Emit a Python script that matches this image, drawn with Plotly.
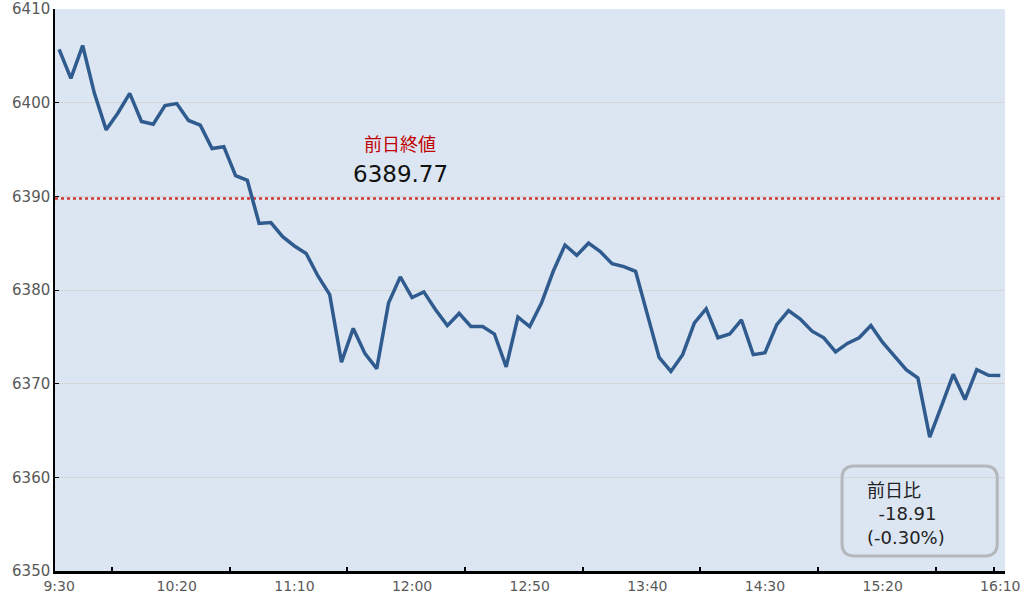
import plotly.graph_objects as go

# 5-minute prices, 9:30 -> 16:10
prices = [
    6405.7, 6402.6, 6406.1, 6401.0, 6397.1, 6398.9, 6401.0, 6398.0, 6397.7, 6399.7,
    6399.9, 6398.1, 6397.6, 6395.1, 6395.3, 6392.2, 6391.7, 6387.1, 6387.2, 6385.7,
    6384.7, 6383.9, 6381.5, 6379.5, 6372.3, 6375.9, 6373.2, 6371.6, 6378.6, 6381.4,
    6379.2, 6379.8, 6377.9, 6376.2, 6377.5, 6376.1, 6376.1, 6375.3, 6371.8, 6377.1,
    6376.1, 6378.6, 6382.0, 6384.8, 6383.7, 6385.0, 6384.1, 6382.8, 6382.5, 6382.0,
    6377.4, 6372.8, 6371.3, 6373.1, 6376.5, 6378.0, 6374.9, 6375.3, 6376.8, 6373.1,
    6373.3, 6376.3, 6377.8, 6376.9, 6375.6, 6374.9, 6373.4, 6374.3, 6374.9, 6376.2,
    6374.4, 6373.0, 6371.5, 6370.6, 6364.3, 6367.6, 6371.0, 6368.3, 6371.5, 6370.9,
    6370.86,
]
prev_close = 6389.77
tick_labels = ["9:30", "10:20", "11:10", "12:00", "12:50", "13:40", "14:30", "15:20", "16:10"]
y_ticks = [6350, 6360, 6370, 6380, 6390, 6400, 6410]

# time labels for each point (every 5 minutes)
times = []
for k in range(len(prices)):
    m = 9 * 60 + 30 + 5 * k
    times.append("%d:%02d" % (m // 60, m % 60))
xs = list(range(len(prices)))
tick_pos = [times.index(t) for t in tick_labels]
minor_pos = [p + 4.5 for p in tick_pos[:-1]] + [len(prices) - 1.5]
x_range = [-0.35, 80.4]

change = prices[-1] - prev_close
pct = change / prev_close * 100

font = "DejaVu Sans, Noto Sans CJK JP"
cjk = "Noto Sans CJK JP"

fig = go.Figure()
fig.add_trace(go.Scatter(x=[x_range[0], xs[-1]], y=[prev_close, prev_close], mode="lines",
                         line=dict(color="#d03a32", width=2.5, dash="dot"),
                         hoverinfo="skip"))
fig.add_trace(go.Scatter(x=xs, y=prices, mode="lines", text=times,
                         line=dict(color="#2f5b8e", width=3.5)))

fig.add_annotation(x=29, y=6395.7, text="前日終値", showarrow=False,
                   font=dict(family=cjk, size=18, color="#c00000"))
fig.add_annotation(x=29, y=6392.4, text="%.2f" % prev_close, showarrow=False,
                   font=dict(family=font, size=23, color="#111111"))

# rounded box for the change
x0, x1, y0, y1 = 66.55, 79.74, 6351.6, 6361.2
rx, ry = 1.05, 1.3
path = ("M %f,%f L %f,%f Q %f,%f %f,%f L %f,%f Q %f,%f %f,%f L %f,%f Q %f,%f %f,%f "
        "L %f,%f Q %f,%f %f,%f Z" % (
            x0 + rx, y1, x1 - rx, y1, x1, y1, x1, y1 - ry,
            x1, y0 + ry, x1, y0, x1 - rx, y0,
            x0 + rx, y0, x0, y0, x0, y0 + ry,
            x0, y1 - ry, x0, y1, x0 + rx, y1))
fig.add_shape(type="path", path=path, xref="x", yref="y",
              line=dict(color="#b4b8bc", width=3))
box_text = "前日比<br>\u00a0\u00a0%.2f<br>(%.2f%%)" % (change, pct)
fig.add_annotation(x=68.5, y=6356.1, text=box_text, showarrow=False,
                   xanchor="left", align="left",
                   font=dict(family=font, size=18, color="#222222"))

fig.update_layout(
    width=1030, height=595,
    margin=dict(l=55, r=25, t=9, b=24, autoexpand=False),
    paper_bgcolor="white",
    plot_bgcolor="#dce6f2",
    showlegend=False,
    font=dict(family=font, color="#595959", size=15),
)
fig.update_xaxes(
    range=x_range, automargin=False,
    tickvals=tick_pos, ticktext=tick_labels,
    ticks="", showgrid=False, zeroline=False,
    showline=True, linecolor="black", linewidth=2.5,
    tickfont=dict(size=14, color="#595959"),
    minor=dict(tickvals=minor_pos, ticks="inside", ticklen=4, tickcolor="black", tickwidth=1.5, showgrid=False),
)
fig.update_yaxes(
    range=[6350, 6410.001], tickvals=y_ticks, automargin=False,
    showgrid=True, gridcolor="#d6d6d6", gridwidth=1, zeroline=False,
    showline=True, linecolor="black", linewidth=1.5,
    ticks="inside", ticklen=4, tickcolor="black",
    tickfont=dict(size=15, color="#595959"),
)

# drop the page's default body margin so the figure fills the window
fig.write_html("out.html", config={"displayModeBar": False},
               post_script="document.body.style.margin='0';")
